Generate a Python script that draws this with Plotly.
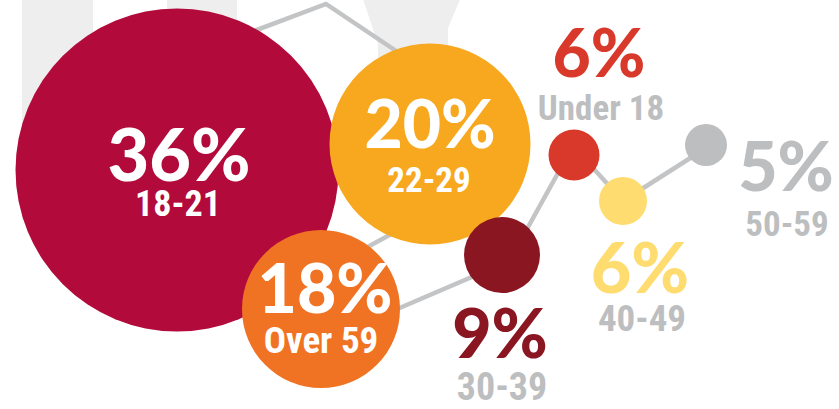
import plotly.graph_objects as go

# ---- data ----
age_groups = ["18-21", "22-29", "Over 59", "30-39", "Under 18", "40-49", "50-59"]
shares = [36, 20, 18, 9, 6, 6, 5]

# ---- layout (pixel-space placement of the infographic) ----
W, H = 839, 409
bubble_x = [177, 430, 321, 502, 574, 623, 706]
bubble_y = [170, 144, 309, 255, 155, 201, 145]
bubble_d = [323, 201, 158, 76, 51, 48, 42]
bubble_col = ["#B20A3B", "#F7A81F", "#F07323", "#8A1622", "#D9392A", "#FEDC6F", "#BDBEC0"]

pct_x = [179, 430, 325, 500, 599, 640, 786]
pct_y = [163, 131, 296, 341, 60, 275, 174]
pct_size = [72, 66, 68, 68, 66, 70, 68]
pct_col = ["white", "white", "white", "#8A1622", "#D9392A", "#FEDC6F", "#BDBEC0"]

lab_x = [178, 429, 321, 502, 601, 642, 787]
lab_y = [207, 183, 344, 390, 111, 322, 227]
lab_size = [36, 35, 37, 38, 35, 37, 35]
lab_col = ["white", "white", "white", "#BDBEC0", "#BDBEC0", "#BDBEC0", "#BDBEC0"]

# connector path (passes behind bubbles)
path_x = [230, 326, 420, 430, 340, 360, 495, 512, 573, 623, 706]
path_y = [40, 4, 67, 213, 262, 325, 267, 256, 146, 201, 148]

fig = go.Figure()

fig.add_trace(go.Scatter(
    x=path_x, y=path_y, mode="lines",
    line=dict(color="#C3C4C6", width=4.5),
    hoverinfo="skip", showlegend=False,
))

fig.add_trace(go.Scatter(
    x=bubble_x, y=bubble_y, mode="markers",
    marker=dict(size=bubble_d, sizemode="diameter", color=bubble_col,
                opacity=1, line=dict(width=0)),
    customdata=shares, text=age_groups,
    hovertemplate="%{text}: %{customdata}%<extra></extra>",
    showlegend=False,
))

fig.add_trace(go.Scatter(
    x=pct_x, y=pct_y, mode="text",
    text=[f"{v}%" for v in shares],
    textposition="middle center",
    textfont=dict(family="Lato", size=pct_size, color=pct_col, weight=900),
    cliponaxis=False,
    hoverinfo="skip", showlegend=False,
))

fig.add_trace(go.Scatter(
    x=lab_x, y=lab_y, mode="text",
    text=age_groups,
    textposition="middle center",
    textfont=dict(family="Roboto Condensed, Roboto", size=lab_size, color=lab_col, weight="bold"),
    cliponaxis=False,
    hoverinfo="skip", showlegend=False,
))

bg = "#EEEEEE"
shapes = [
    dict(type="rect", x0=22, x1=93, y0=-10, y1=220, fillcolor=bg, line_width=0, layer="below"),
    dict(type="rect", x0=167, x1=237, y0=-10, y1=60, fillcolor=bg, line_width=0, layer="below"),
    dict(type="path", path="M 360 -10 L 464 -10 L 448 28 L 448 90 L 378 90 L 378 44 Z",
         fillcolor=bg, line_width=0, layer="below"),
]

fig.update_layout(
    width=W, height=H, autosize=False,
    margin=dict(l=0, r=0, t=0, b=0, pad=0),
    paper_bgcolor="white", plot_bgcolor="white",
    xaxis=dict(range=[0, W], visible=False, fixedrange=True),
    yaxis=dict(range=[H, 0], visible=False, fixedrange=True),
    shapes=shapes,
    showlegend=False,
)

fig.write_html(
    "out.html",
    config={"displayModeBar": False},
    post_script="document.body.style.margin='0';document.body.style.overflow='hidden';",
)
